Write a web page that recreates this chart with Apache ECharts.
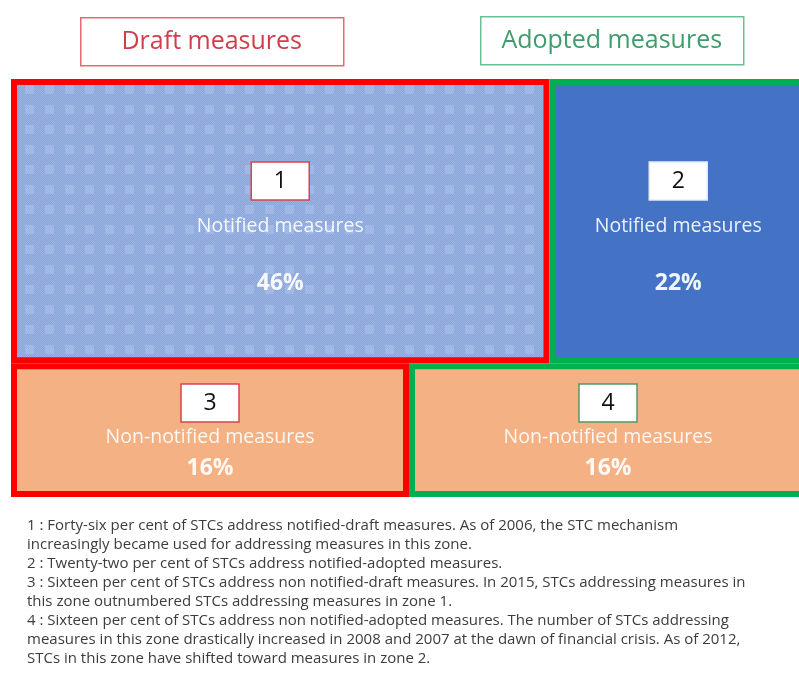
<!DOCTYPE html>
<html>
<head>
<meta charset="utf-8">
<script src="https://cdn.jsdelivr.net/npm/echarts@6/dist/echarts.min.js"></script>
<style>
html, body { margin: 0; padding: 0; background: #fff; }
#chart { width: 799px; height: 689px; }
</style>
</head>
<body>
<div id="chart"></div>
<script>
// zones of the STC matrix: notified / non-notified x draft / adopted
const zones = ['1', '2', '3', '4'];
const zoneNames = ['Notified measures', 'Notified measures', 'Non-notified measures', 'Non-notified measures'];
const shares = [46, 22, 16, 16];
const stages = ['draft', 'adopted', 'draft', 'adopted'];
const rows = [0, 0, 1, 1]; // 0 = notified, 1 = non-notified
const headers = ['Draft measures', 'Adopted measures'];
const noteLines = [
  '1 : Forty-six per cent of STCs address notified-draft measures. As of 2006, the STC mechanism',
  'increasingly became used for addressing measures in this zone.',
  '2 : Twenty-two per cent of STCs address notified-adopted measures.',
  '3 : Sixteen per cent of STCs address non notified-draft measures. In 2015, STCs addressing measures in',
  'this zone outnumbered STCs addressing measures in zone 1.',
  '4 : Sixteen per cent of STCs address non notified-adopted measures. The number of STCs addressing',
  'measures in this zone drastically increased in 2008 and 2007 at the dawn of financial crisis. As of 2012,',
  'STCs in this zone have shifted toward measures in zone 2.'
];

const stageColor = { draft: '#ff0000', adopted: '#00b050' };
const boxBorder = ['#d8434f', '#e3ebf7', '#d8434f', '#4f9a6a'];

// dotted blue texture of zone 1
function makePattern() {
  const c = document.createElement('canvas');
  c.width = 20;
  c.height = 20;
  const ctx = c.getContext('2d');
  for (let y = 0; y < 20; y++) {
    for (let x = 0; x < 20; x++) {
      const inSq = x >= 5 && x < 14 && y >= 5 && y < 14;
      const odd = (x + y) % 2 === 1;
      if (inSq) ctx.fillStyle = odd ? '#a6bde8' : '#9bb4e3';
      else ctx.fillStyle = odd ? '#8aa6db' : '#9ab2e2';
      ctx.fillRect(x, y, 1, 1);
    }
  }
  return c;
}
const pattern = { image: makePattern(), repeat: 'repeat' };
const fills = [pattern, '#4472c4', '#f4b183', '#f4b183'];

// treemap-like layout: one row per notification status, width by share
const rowTotal = [0, 0];
shares.forEach((s, i) => { rowTotal[rows[i]] += s; });
const total = rowTotal[0] + rowTotal[1];
const split = rowTotal[0] / total * 100;
const xCursor = [0, 0];
const cells = zones.map((z, i) => {
  const r = rows[i];
  const y0 = r === 0 ? 0 : split;
  const y1 = r === 0 ? split : 100;
  const x0 = xCursor[r];
  const x1 = x0 + shares[i] / rowTotal[r] * 100;
  xCursor[r] = x1;
  return [x0, x1, y0, y1, i];
});

const font = '"Open Sans", Lato, sans-serif';

function renderItem(params, api) {
  const i = api.value(4);
  const p0 = api.coord([api.value(0), api.value(2)]);
  const p1 = api.coord([api.value(1), api.value(3)]);
  const lw = 6;
  const cx = (p0[0] + p1[0]) / 2;
  const cy = (p0[1] + p1[1]) / 2;
  const off = rows[i] === 0 ? [-40, 5, 62] : [-27, 7, 38];
  const bw = 58, bh = 38;
  return {
    type: 'group',
    children: [
      {
        type: 'rect',
        shape: { x: p0[0] + lw / 2, y: p0[1] + lw / 2, width: p1[0] - p0[0] - lw, height: p1[1] - p0[1] - lw },
        style: { fill: fills[i], stroke: stageColor[stages[i]], lineWidth: lw }
      },
      {
        type: 'rect',
        shape: { x: cx - bw / 2, y: cy + off[0] - bh / 2, width: bw, height: bh },
        style: { fill: '#ffffff', stroke: boxBorder[i], lineWidth: 1.5 }
      },
      {
        type: 'text',
        x: cx, y: cy + off[0],
        style: { text: zones[i], fill: '#111', font: '23px ' + font, align: 'center', verticalAlign: 'middle' }
      },
      {
        type: 'text',
        x: cx, y: cy + off[1],
        style: { text: zoneNames[i], fill: 'rgba(255,255,255,0.9)', font: '19.5px ' + font, align: 'center', verticalAlign: 'middle' }
      },
      {
        type: 'text',
        x: cx, y: cy + off[2],
        style: { text: shares[i] + '%', fill: 'rgba(255,255,255,0.92)', font: 'bold 23px ' + font, align: 'center', verticalAlign: 'middle' }
      }
    ]
  };
}

const chart = echarts.init(document.getElementById('chart'));
const option = {
  animation: false,
  backgroundColor: '#fff',
  grid: { left: 11, width: 796, top: 79, height: 418, outerBoundsMode: 'none' },
  xAxis: { type: 'value', min: 0, max: 100, show: false },
  yAxis: { type: 'value', min: 0, max: 100, inverse: true, show: false },
  graphic: [
    {
      type: 'group', left: 80, top: 17,
      children: [
        { type: 'rect', shape: { x: 0, y: 0, width: 263, height: 48 }, style: { fill: '#fff', stroke: '#e36a70', lineWidth: 1.5 } },
        { type: 'text', x: 131, y: 24, style: { text: headers[0], fill: '#cf3f4b', font: '25px ' + font, align: 'center', verticalAlign: 'middle' } }
      ]
    },
    {
      type: 'group', left: 480, top: 16,
      children: [
        { type: 'rect', shape: { x: 0, y: 0, width: 263, height: 48 }, style: { fill: '#fff', stroke: '#6cbf94', lineWidth: 1.5 } },
        { type: 'text', x: 131, y: 24, style: { text: headers[1], fill: '#3f9c6c', font: '25px ' + font, align: 'center', verticalAlign: 'middle' } }
      ]
    },
    {
      type: 'text', left: 27, top: 516,
      style: { text: noteLines.join('\n'), fill: '#3c3c3c', font: '15px ' + font, lineHeight: 19 }
    }
  ],
  series: [
    {
      type: 'custom',
      silent: true,
      renderItem: renderItem,
      encode: { x: [0, 1], y: [2, 3] },
      data: cells
    }
  ]
};
chart.setOption(option);
</script>
</body>
</html>
